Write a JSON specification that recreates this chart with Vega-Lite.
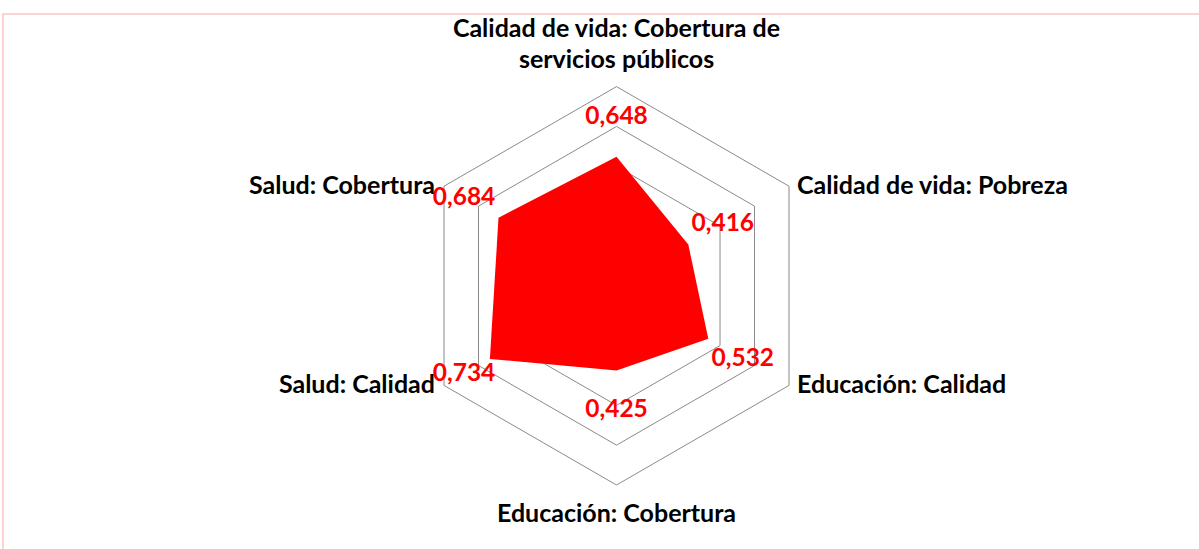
{
  "$schema": "https://vega.github.io/schema/vega-lite/v6.json",
  "autosize": {"type": "fit", "contains": "padding"},
  "width": 1199,
  "height": 549,
  "padding": {"left": 3, "top": 14, "right": -3, "bottom": -3},
  "background": "white",
  "config": {
    "view": {"stroke": "#ffc4c4", "strokeWidth": 1.5},
    "text": {"font": "Lato", "fontWeight": "bold"}
  },
  "datasets": {
    "vals": [
      {"cat": "Calidad de vida: Cobertura de\nservicios públicos", "idx": 0, "value": 0.648},
      {"cat": "Calidad de vida: Pobreza", "idx": 1, "value": 0.416},
      {"cat": "Educación: Calidad", "idx": 2, "value": 0.532},
      {"cat": "Educación: Cobertura", "idx": 3, "value": 0.425},
      {"cat": "Salud: Calidad", "idx": 4, "value": 0.734},
      {"cat": "Salud: Cobertura", "idx": 5, "value": 0.684}
    ],
    "grid": [
      {"level": 0.2, "idx": [0, 1, 2, 3, 4, 5]},
      {"level": 0.4, "idx": [0, 1, 2, 3, 4, 5]},
      {"level": 0.6, "idx": [0, 1, 2, 3, 4, 5]},
      {"level": 0.8, "idx": [0, 1, 2, 3, 4, 5]},
      {"level": 1.0, "idx": [0, 1, 2, 3, 4, 5]}
    ]
  },
  "layer": [
    {
      "data": {"name": "grid"},
      "transform": [
        {"flatten": ["idx"]},
        {"calculate": "datum.idx * PI / 3", "as": "a"},
        {"calculate": "datum.level * sin(datum.a)", "as": "px"},
        {"calculate": "datum.level * cos(datum.a)", "as": "py"}
      ],
      "mark": {"type": "line", "interpolate": "linear-closed", "stroke": "#8a8a8a", "strokeWidth": 1},
      "encoding": {
        "x": {"field": "px", "type": "quantitative", "scale": {"domain": [-3.0799, 2.9392], "nice": false, "zero": false}, "axis": null},
        "y": {"field": "py", "type": "quantitative", "scale": {"domain": [-1.3363, 1.3645], "nice": false, "zero": false}, "axis": null},
        "detail": {"field": "level", "type": "nominal"},
        "order": {"field": "idx", "type": "quantitative"}
      }
    },
    {
      "data": {"name": "vals"},
      "transform": [
        {"calculate": "datum.idx * PI / 3", "as": "a"},
        {"calculate": "datum.value * sin(datum.a)", "as": "px"},
        {"calculate": "datum.value * cos(datum.a)", "as": "py"}
      ],
      "mark": {"type": "line", "interpolate": "linear-closed", "filled": true, "fill": "#ff0000", "strokeWidth": 0},
      "encoding": {
        "x": {"field": "px", "type": "quantitative", "scale": {"domain": [-3.0799, 2.9392], "nice": false, "zero": false}, "axis": null},
        "y": {"field": "py", "type": "quantitative", "scale": {"domain": [-1.3363, 1.3645], "nice": false, "zero": false}, "axis": null},
        "order": {"field": "idx", "type": "quantitative"}
      }
    },
    {
      "data": {"name": "vals"},
      "transform": [
        {"calculate": "datum.idx * PI / 3", "as": "a"},
        {"calculate": "datum.value + (datum.idx == 4 ? 0.15 : 0.2)", "as": "lr"},
        {"calculate": "datum.lr * sin(datum.a)", "as": "px"},
        {"calculate": "datum.lr * cos(datum.a)", "as": "py"},
        {"calculate": "replace(format(datum.value, '.3f'), '.', ',')", "as": "lbl"}
      ],
      "mark": {"type": "text", "color": "#ff0000", "fontSize": 24.5, "align": "center", "baseline": "middle"},
      "encoding": {
        "x": {"field": "px", "type": "quantitative", "scale": {"domain": [-3.0799, 2.9392], "nice": false, "zero": false}, "axis": null},
        "y": {"field": "py", "type": "quantitative", "scale": {"domain": [-1.3363, 1.3645], "nice": false, "zero": false}, "axis": null},
        "text": {"field": "lbl", "type": "nominal"}
      }
    },
    {
      "data": {"name": "vals"},
      "transform": [
        {"filter": "datum.idx == 0"},
        {"calculate": "datum.idx * PI / 3", "as": "a"},
        {"calculate": "sin(datum.a)", "as": "px"},
        {"calculate": "cos(datum.a)", "as": "py"}
      ],
      "mark": {"type": "text", "color": "black", "fontSize": 25, "align": "center", "baseline": "alphabetic", "lineBreak": "\n", "lineHeight": 31, "dy": -50},
      "encoding": {
        "x": {"field": "px", "type": "quantitative", "scale": {"domain": [-3.0799, 2.9392], "nice": false, "zero": false}, "axis": null},
        "y": {"field": "py", "type": "quantitative", "scale": {"domain": [-1.3363, 1.3645], "nice": false, "zero": false}, "axis": null},
        "text": {"field": "cat", "type": "nominal"}
      }
    },
    {
      "data": {"name": "vals"},
      "transform": [
        {"filter": "datum.idx == 1 || datum.idx == 2"},
        {"calculate": "datum.idx * PI / 3", "as": "a"},
        {"calculate": "sin(datum.a)", "as": "px"},
        {"calculate": "cos(datum.a)", "as": "py"}
      ],
      "mark": {"type": "text", "color": "black", "fontSize": 25, "align": "left", "baseline": "alphabetic", "dx": 8, "dy": 8},
      "encoding": {
        "x": {"field": "px", "type": "quantitative", "scale": {"domain": [-3.0799, 2.9392], "nice": false, "zero": false}, "axis": null},
        "y": {"field": "py", "type": "quantitative", "scale": {"domain": [-1.3363, 1.3645], "nice": false, "zero": false}, "axis": null},
        "text": {"field": "cat", "type": "nominal"}
      }
    },
    {
      "data": {"name": "vals"},
      "transform": [
        {"filter": "datum.idx == 3"},
        {"calculate": "datum.idx * PI / 3", "as": "a"},
        {"calculate": "sin(datum.a)", "as": "px"},
        {"calculate": "cos(datum.a)", "as": "py"}
      ],
      "mark": {"type": "text", "color": "black", "fontSize": 25, "align": "center", "baseline": "alphabetic", "dy": 37},
      "encoding": {
        "x": {"field": "px", "type": "quantitative", "scale": {"domain": [-3.0799, 2.9392], "nice": false, "zero": false}, "axis": null},
        "y": {"field": "py", "type": "quantitative", "scale": {"domain": [-1.3363, 1.3645], "nice": false, "zero": false}, "axis": null},
        "text": {"field": "cat", "type": "nominal"}
      }
    },
    {
      "data": {"name": "vals"},
      "transform": [
        {"filter": "datum.idx == 4 || datum.idx == 5"},
        {"calculate": "datum.idx * PI / 3", "as": "a"},
        {"calculate": "sin(datum.a)", "as": "px"},
        {"calculate": "cos(datum.a)", "as": "py"}
      ],
      "mark": {"type": "text", "color": "black", "fontSize": 25, "align": "right", "baseline": "alphabetic", "dx": -9, "dy": 8},
      "encoding": {
        "x": {"field": "px", "type": "quantitative", "scale": {"domain": [-3.0799, 2.9392], "nice": false, "zero": false}, "axis": null},
        "y": {"field": "py", "type": "quantitative", "scale": {"domain": [-1.3363, 1.3645], "nice": false, "zero": false}, "axis": null},
        "text": {"field": "cat", "type": "nominal"}
      }
    }
  ]
}
